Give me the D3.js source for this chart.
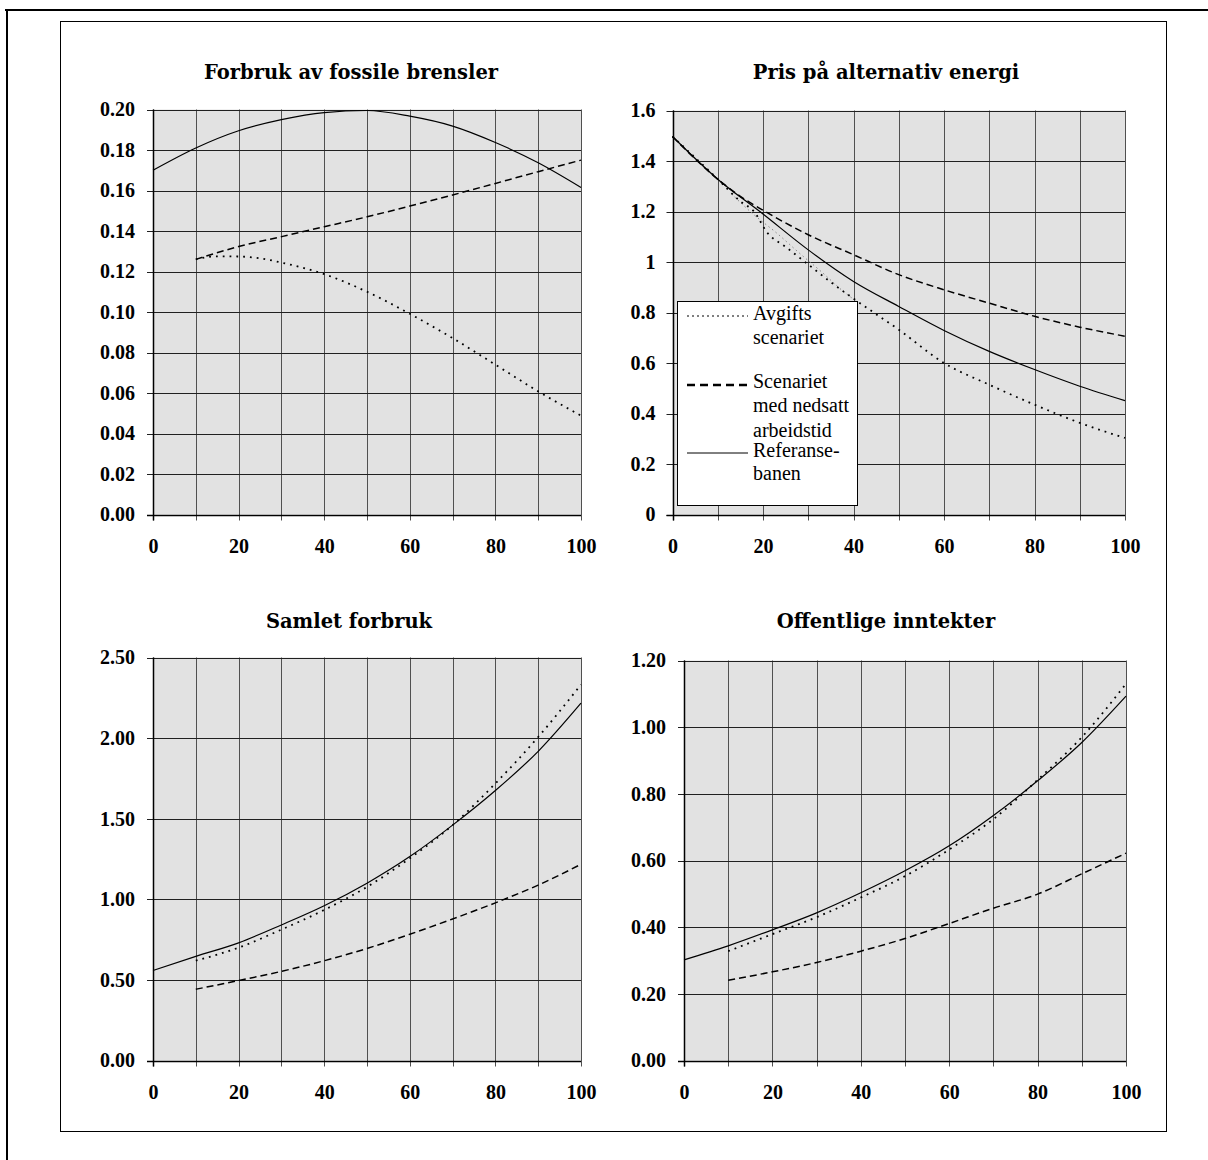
<!DOCTYPE html>
<html>
<head>
<meta charset="utf-8">
<script src="https://cdn.jsdelivr.net/npm/d3@7"></script>
<style>
  html, body { margin: 0; padding: 0; background: #fff; }
  svg { display: block; }
</style>
</head>
<body>
<script>
// ---------------- DATA ----------------
const titles = ["Forbruk av fossile brensler", "Pris på alternativ energi", "Samlet forbruk", "Offentlige inntekter"];
const xTickLabels = [0, 20, 40, 60, 80, 100];
const legendLabels = [["Avgifts", "scenariet"], ["Scenariet", "med nedsatt", "arbeidstid"], ["Referanse-", "banen"]];

const fullX = [0, 10, 20, 30, 40, 50, 60, 70, 80, 90, 100];
const fromTenX = [10, 20, 30, 40, 50, 60, 70, 80, 90, 100];

// Panel 1: Forbruk av fossile brensler
const fossilYTicks = [0, 0.02, 0.04, 0.06, 0.08, 0.10, 0.12, 0.14, 0.16, 0.18, 0.20];
const fossilRef = [0.170, 0.181, 0.1895, 0.195, 0.1985, 0.1995, 0.1967, 0.1918, 0.1837, 0.1737, 0.1615];
const fossilWork = [0.126, 0.1323, 0.1372, 0.1421, 0.147, 0.1523, 0.1578, 0.1635, 0.1693, 0.175];
const fossilTaxX = [10, 15, 20, 25, 30, 40, 50, 60, 70, 80, 90, 100];
const fossilTax = [0.126, 0.1275, 0.1274, 0.1265, 0.1244, 0.1187, 0.110, 0.0991, 0.0871, 0.074, 0.0608, 0.0488];

// Panel 2: Pris på alternativ energi
const priceYTicks = [0, 0.2, 0.4, 0.6, 0.8, 1, 1.2, 1.4, 1.6];
const priceRef = [1.497, 1.328, 1.19, 1.048, 0.923, 0.824, 0.729, 0.646, 0.574, 0.508, 0.451];
const priceWorkX = [0, 10, 15, 20, 30, 40, 50, 60, 70, 80, 90, 100];
const priceWork = [1.497, 1.328, 1.26, 1.205, 1.108, 1.029, 0.95, 0.89, 0.837, 0.785, 0.742, 0.706];
const priceTaxX = [0, 10, 15, 18, 21, 25, 30, 35, 40, 50, 60, 70, 80, 90, 100];
const priceTax = [1.497, 1.328, 1.24, 1.2, 1.115, 1.06, 0.99, 0.92, 0.855, 0.732, 0.6, 0.514, 0.435, 0.363, 0.303];
const priceGrayX = [13, 18, 23, 28, 33, 38, 41];
const priceGray = [1.27, 1.187, 1.115, 1.036, 0.96, 0.88, 0.84];

// Panel 3: Samlet forbruk
const consYTicks = [0, 0.5, 1.0, 1.5, 2.0, 2.5];
const consRef = [0.558, 0.646, 0.730, 0.841, 0.960, 1.10, 1.265, 1.46, 1.675, 1.918, 2.217];
const consTax = [0.619, 0.70, 0.812, 0.934, 1.077, 1.254, 1.46, 1.719, 2.007, 2.332];
const consWork = [0.442, 0.496, 0.553, 0.619, 0.695, 0.783, 0.878, 0.978, 1.088, 1.217];

// Panel 4: Offentlige inntekter
const revYTicks = [0, 0.2, 0.4, 0.6, 0.8, 1.0, 1.2];
const revRef = [0.302, 0.344, 0.392, 0.443, 0.503, 0.569, 0.644, 0.735, 0.839, 0.954, 1.093];
const revTax = [0.328, 0.379, 0.43, 0.489, 0.553, 0.633, 0.724, 0.842, 0.97, 1.13];
const revWork = [0.241, 0.266, 0.294, 0.328, 0.366, 0.411, 0.457, 0.499, 0.56, 0.622];

// ---------------- STYLES ----------------
const STY = {
  ref:  { w: 1.2, dash: null, color: "#000" },
  work: { w: 1.5, dash: "7,4", color: "#000" },
  tax:  { w: 1.8, dash: "1.8,5", color: "#000" },
  gray: { w: 1.0, dash: "1.5,3", color: "#888" }
};
const tickFont = "'Liberation Serif', 'Times New Roman', serif";
const titleFont = "'DejaVu Serif', serif";

const W = 1208, H = 1160;
const svg = d3.select("body").append("svg").attr("width", W).attr("height", H);

// page borders
svg.append("line").attr("x1", 5).attr("x2", W).attr("y1", 10).attr("y2", 10).attr("stroke", "#000").attr("stroke-width", 2);
svg.append("line").attr("x1", 7).attr("x2", 7).attr("y1", 10).attr("y2", H).attr("stroke", "#000").attr("stroke-width", 2);
svg.append("rect").attr("x", 60.5).attr("y", 21.5).attr("width", 1106).attr("height", 1110)
  .attr("fill", "none").attr("stroke", "#000").attr("stroke-width", 1);

function zip(xs, ys) { return xs.map((x, i) => [x, ys[i]]); }

function panel(cfg) {
  const x = d3.scaleLinear().domain([0, 100]).range([cfg.x0, cfg.x1]);
  const y = d3.scaleLinear().domain([0, cfg.ymax]).range([cfg.y1, cfg.y0]);
  const g = svg.append("g");

  g.append("rect").attr("x", cfg.x0).attr("y", cfg.y0)
    .attr("width", cfg.x1 - cfg.x0).attr("height", cfg.y1 - cfg.y0).attr("fill", "#e2e2e2");

  // grid: vertical every 10, horizontal at y ticks
  const vx = d3.range(0, 101, 10);
  g.selectAll(".vg").data(vx).join("line")
    .attr("x1", d => Math.round(x(d)) + 0.5).attr("x2", d => Math.round(x(d)) + 0.5)
    .attr("y1", cfg.y0).attr("y2", cfg.y1 + 6)
    .attr("stroke", "#505050").attr("stroke-width", 1);
  g.selectAll(".hg").data(cfg.yTicks).join("line")
    .attr("x1", cfg.x0 - 6).attr("x2", cfg.x1)
    .attr("y1", d => Math.round(y(d)) + 0.5).attr("y2", d => Math.round(y(d)) + 0.5)
    .attr("stroke", "#202020").attr("stroke-width", 1);

  // axes (labels)
  const yAxis = d3.axisLeft(y).tickValues(cfg.yTicks).tickFormat(cfg.fmt).tickSize(0).tickPadding(cfg.labelGap);
  const ya = g.append("g").attr("transform", `translate(${cfg.x0},0)`).call(yAxis);
  ya.select(".domain").remove();
  ya.selectAll("text").attr("font-family", tickFont).attr("font-weight", "bold").attr("font-size", 20).attr("fill", "#000");

  const xAxis = d3.axisBottom(x).tickValues(xTickLabels).tickFormat(d3.format("d")).tickSize(0).tickPadding(24);
  const xa = g.append("g").attr("transform", `translate(0,${cfg.y1})`).call(xAxis);
  xa.select(".domain").remove();
  xa.selectAll("text").attr("font-family", tickFont).attr("font-weight", "bold").attr("font-size", 20).attr("fill", "#000");

  // axis lines
  g.append("line").attr("x1", Math.round(cfg.x0) + 0.5).attr("x2", Math.round(cfg.x0) + 0.5)
    .attr("y1", cfg.y0).attr("y2", cfg.y1 + 6).attr("stroke", "#000").attr("stroke-width", 1.5);
  g.append("line").attr("x1", cfg.x0 - 6).attr("x2", cfg.x1)
    .attr("y1", Math.round(cfg.y1) + 0.5).attr("y2", Math.round(cfg.y1) + 0.5).attr("stroke", "#000").attr("stroke-width", 1.5);

  // title
  svg.append("text").attr("x", cfg.tx).attr("y", cfg.ty).attr("text-anchor", "middle")
    .attr("font-family", titleFont).attr("font-weight", "bold").attr("font-size", 19.5).text(cfg.title);

  // series
  const line = d3.line().x(d => x(d[0])).y(d => y(d[1])).curve(d3.curveMonotoneX);
  cfg.series.forEach(s => {
    const st = STY[s.style];
    g.append("path").datum(s.data).attr("d", line)
      .attr("fill", "none").attr("stroke", st.color).attr("stroke-width", st.w)
      .attr("stroke-dasharray", st.dash).attr("stroke-linejoin", "round");
  });
  return { x, y, g };
}

panel({
  title: titles[0], tx: 351, ty: 79,
  x0: 153, x1: 581, y0: 109.5, y1: 514.5, ymax: 0.2, yTicks: fossilYTicks,
  fmt: d3.format(".2f"), labelGap: 18,
  series: [
    { style: "ref", data: zip(fullX, fossilRef) },
    { style: "work", data: zip(fromTenX, fossilWork) },
    { style: "tax", data: zip(fossilTaxX, fossilTax) }
  ]
});

const p2 = panel({
  title: titles[1], tx: 886, ty: 79,
  x0: 672.5, x1: 1125, y0: 110.5, y1: 514.5, ymax: 1.6, yTicks: priceYTicks,
  fmt: d3.format("~g"), labelGap: 17,
  series: [
    { style: "gray", data: zip(priceGrayX, priceGray) },
    { style: "tax", data: zip(priceTaxX, priceTax) },
    { style: "work", data: zip(priceWorkX, priceWork) },
    { style: "ref", data: zip(fullX, priceRef) }
  ]
});

panel({
  title: titles[2], tx: 349, ty: 628,
  x0: 153, x1: 581, y0: 657.5, y1: 1060.5, ymax: 2.5, yTicks: consYTicks,
  fmt: d3.format(".2f"), labelGap: 18,
  series: [
    { style: "ref", data: zip(fullX, consRef) },
    { style: "tax", data: zip(fromTenX, consTax) },
    { style: "work", data: zip(fromTenX, consWork) }
  ]
});

panel({
  title: titles[3], tx: 886, ty: 628,
  x0: 684, x1: 1126, y0: 660.5, y1: 1060.5, ymax: 1.2, yTicks: revYTicks,
  fmt: d3.format(".2f"), labelGap: 18,
  series: [
    { style: "ref", data: zip(fullX, revRef) },
    { style: "tax", data: zip(fromTenX, revTax) },
    { style: "work", data: zip(fromTenX, revWork) }
  ]
});

// ---------------- LEGEND (panel 2) ----------------
const lg = svg.append("g");
lg.append("rect").attr("x", 677.5).attr("y", 301.5).attr("width", 180).attr("height", 204)
  .attr("fill", "#fff").attr("stroke", "#000").attr("stroke-width", 1);
const legendStyles = [
  { w: 1, dash: "2,3", ly: 316 },
  { w: 2.5, dash: "8,5", ly: 385 },
  { w: 1, dash: null, ly: 453 }
];
const legendBaselines = [[320, 344], [388, 412], [436.5], [457, 480]];
const textLines = [
  { t: legendLabels[0][0], y: 320 }, { t: legendLabels[0][1], y: 344 },
  { t: legendLabels[1][0], y: 388 }, { t: legendLabels[1][1], y: 412 }, { t: legendLabels[1][2], y: 436.5 },
  { t: legendLabels[2][0], y: 457 }, { t: legendLabels[2][1], y: 480 }
];
legendStyles.forEach(s => {
  lg.append("line").attr("x1", 687).attr("x2", 748).attr("y1", s.ly).attr("y2", s.ly)
    .attr("stroke", "#000").attr("stroke-width", s.w).attr("stroke-dasharray", s.dash);
});
lg.selectAll("text.lt").data(textLines).join("text")
  .attr("x", 753).attr("y", d => d.y)
  .attr("font-family", tickFont).attr("font-size", 20).attr("fill", "#000")
  .text(d => d.t);
</script>
</body>
</html>
